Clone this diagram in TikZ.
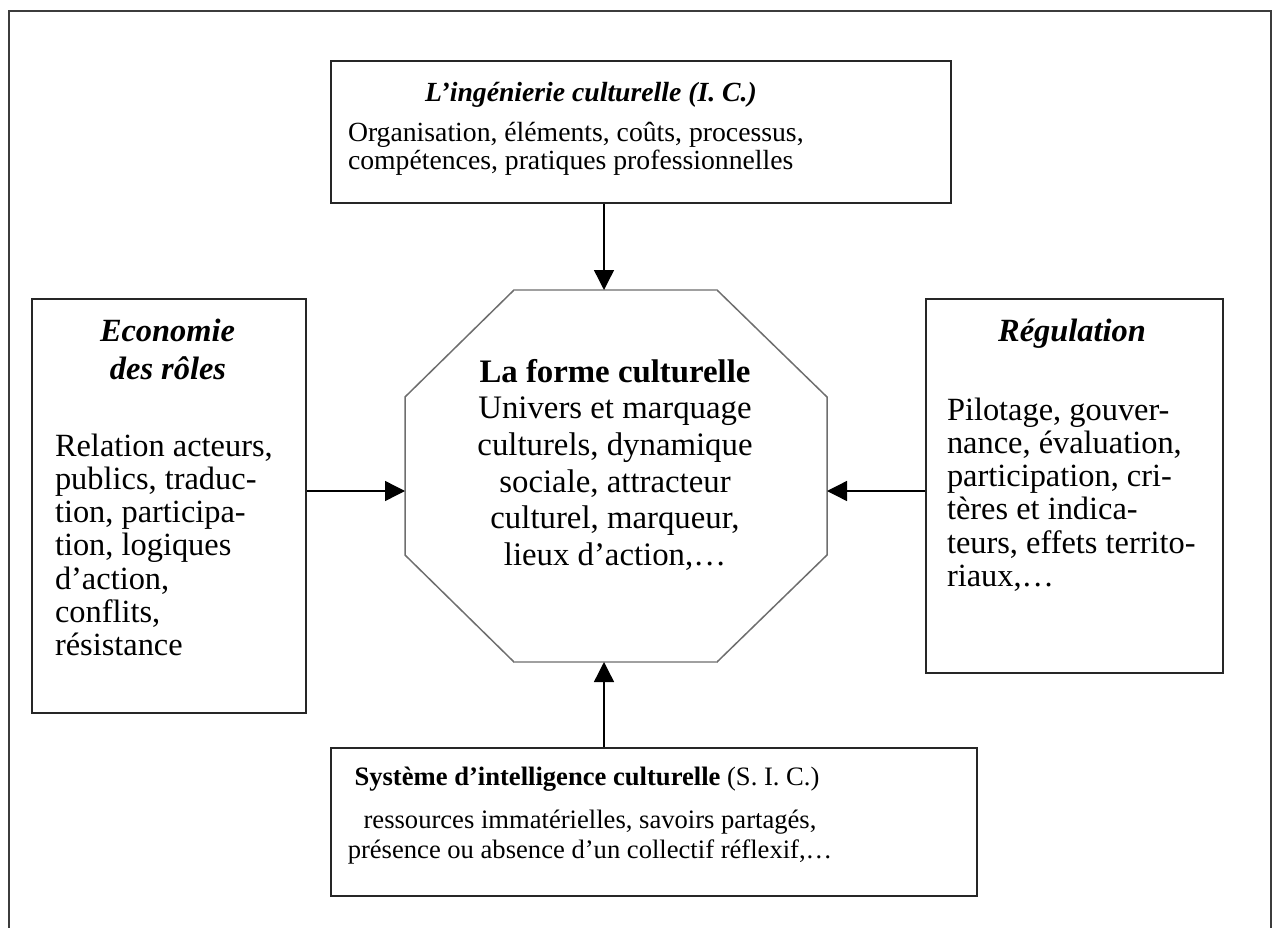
\documentclass[tikz,border=0pt]{standalone}
\usepackage{fontspec}
\setmainfont{Liberation Serif}
\usetikzlibrary{arrows.meta}
\newcommand\ftop{\fontsize{27.7}{28}\selectfont}
\newcommand\fside{\fontsize{32.4}{33.3}\selectfont}
\newcommand\foct{\fontsize{32.8}{36.7}\selectfont}
\newcommand\fbot{\fontsize{26.6}{30}\selectfont}
\definecolor{framecol}{RGB}{60,60,60}
\definecolor{octcol}{RGB}{110,110,110}
\definecolor{octlight}{RGB}{160,160,160}
\tikzset{
  box/.style={draw=black!85, line width=1.7pt, rectangle, inner sep=0pt},
  txt/.style={inner sep=0pt, outer sep=0pt, text=black},
  arr/.style={line width=1.4pt, -{Triangle[length=20pt,width=20pt]}},
  octline/.style={draw=octcol, line width=1.5pt, line join=miter},
  octedge/.style={draw=octlight, line width=2.4pt}
}
\begin{document}
\begin{tikzpicture}[x=1pt,y=-1pt]
\useasboundingbox (0,0) rectangle (1274,928);
% outer frame (open at the bottom)
\draw[framecol, line width=1.8pt] (9,935) -- (9,11) -- (1271,11) -- (1271,935);

% boxes
\node[box, minimum width=620pt, minimum height=142pt] (ic) at (641,132) {};
\node[box, minimum width=274pt, minimum height=414pt] (er) at (169,506) {};
\node[box, minimum width=297pt, minimum height=374pt] (reg) at (1074.5,486) {};
\node[box, minimum width=646pt, minimum height=148pt] (sic) at (654,822) {};

% octagon
\coordinate (o1) at (514,290);
\coordinate (o2) at (717,290);
\coordinate (o3) at (827,397);
\coordinate (o4) at (827,555);
\coordinate (o5) at (717,662);
\coordinate (o6) at (514,662);
\coordinate (o7) at (405,555);
\coordinate (o8) at (405,397);
\draw[octline] (o1) -- (o2) -- (o3) -- (o4) -- (o5) -- (o6) -- (o7) -- (o8) -- cycle;
\draw[octedge] (o1) -- (o2);
\draw[octedge] (o5) -- (o6);
\coordinate (oT) at (604,290);
\coordinate (oB) at (604,662);
\coordinate (oL) at (405,491);
\coordinate (oR) at (827,491);

% top box text
\node[txt, anchor=base] (ictitle) at (591,102) {\ftop\bfseries\itshape L’ingénierie culturelle (I.\ C.)};
\node[txt, anchor=base west] (icbody) at (348,142) {\parbox[t]{560pt}{\raggedright\ftop Organisation, éléments, coûts, processus,\\compétences, pratiques professionnelles}};

% left box text
\node[txt, anchor=base] (ert1) at (167.5,341) {\fside\bfseries\itshape Economie};
\node[txt, anchor=base] (ert2) at (168,379) {\fside\bfseries\itshape des rôles};
\node[txt, anchor=base west] (erbody) at (55,456) {\parbox[t]{250pt}{\raggedright\fside Relation acteurs,\\publics, traduc-\\tion, participa-\\tion, logiques\\d’action,\\conflits,\\résistance}};

% right box text
\node[txt, anchor=base] (regt) at (1072,341) {\fside\bfseries\itshape Régulation};
\node[txt, anchor=base west] (regbody) at (947,420) {\parbox[t]{270pt}{\raggedright\fside Pilotage, gouver-\\nance, évaluation,\\participation, cri-\\tères et indica-\\teurs, effets territo-\\riaux,…}};

% octagon text
\node[txt, anchor=base] (fc) at (615,382) {\parbox[t]{400pt}{\centering\foct\textbf{La forme culturelle}\\Univers et marquage\\culturels, dynamique\\sociale, attracteur\\culturel, marqueur,\\lieux d’action,…}};

% bottom box text
\node[txt, anchor=base] (sict) at (587,785) {\fbot\textbf{Système d’intelligence culturelle} (S.\ I.\ C.)};
\node[txt, anchor=base] (sicbody) at (590,828) {\parbox[t]{620pt}{\centering\fbot ressources immatérielles, savoirs partagés,\\présence ou absence d’un collectif réflexif,…}};

% connectors
\draw[arr] (ic.south -| oT) -- (oT);
\draw[arr] (sic.north -| oB) -- (oB);
\draw[arr] (er.east |- oL) -- (oL);
\draw[arr] (reg.west |- oR) -- (oR);
\end{tikzpicture}
\end{document}
